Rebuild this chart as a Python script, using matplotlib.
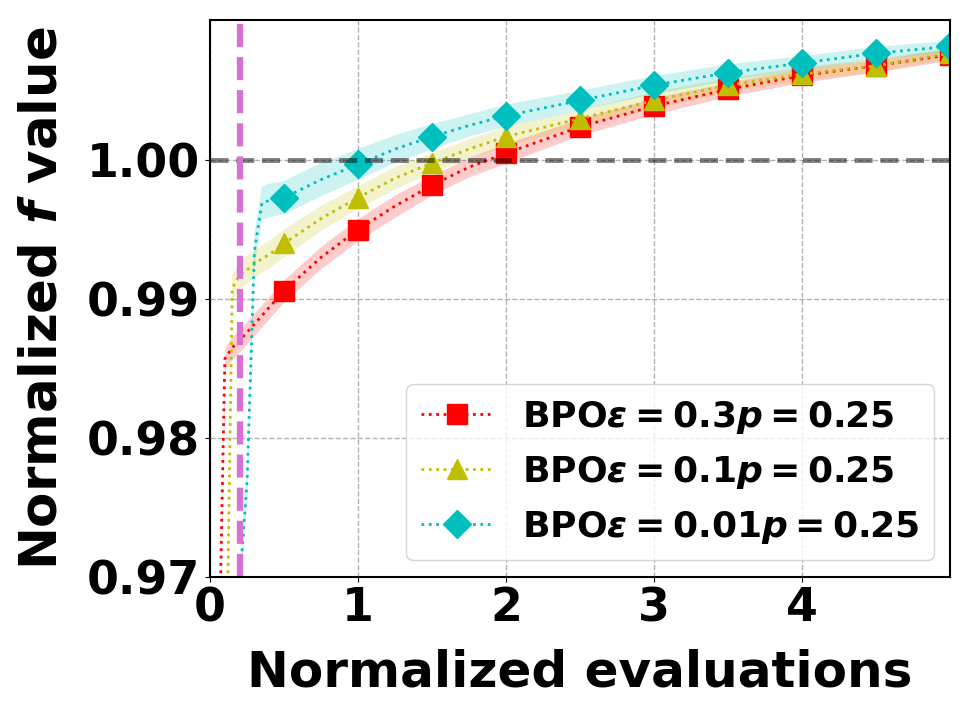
import numpy as np
import matplotlib
matplotlib.use("Agg")
import matplotlib.pyplot as plt

plt.rcParams['font.weight'] = 'bold'
plt.rcParams['axes.labelweight'] = 'bold'
plt.rcParams['mathtext.fontset'] = 'custom'
plt.rcParams['mathtext.rm'] = 'DejaVu Sans:bold'
plt.rcParams['mathtext.it'] = 'DejaVu Sans:italic:bold'
plt.rcParams['mathtext.bf'] = 'DejaVu Sans:bold'

# normalized evaluations
x = [0.05, 0.1, 0.15, 0.2, 0.25, 0.3, 0.35, 0.4, 0.5, 0.75, 1.0, 1.25, 1.5,
     1.75, 2.0, 2.5, 3.0, 3.5, 4.0, 4.5, 5.0]

# eps = 0.3
red_mean = [0.958, 0.9857, 0.9865, 0.9870, 0.9876, 0.9882, 0.9888, 0.9894, 0.9906,
            0.9930, 0.9950, 0.9967, 0.9982, 0.9995, 1.0005, 1.0024, 1.0039, 1.0051,
            1.0061, 1.0068, 1.0076]
red_sd = [0.0008, 0.0008, 0.0008, 0.0008, 0.0008, 0.0008, 0.0008, 0.0008, 0.0008,
          0.0008, 0.0008, 0.0008, 0.0007, 0.0007, 0.0007, 0.0006, 0.0006, 0.0005,
          0.0005, 0.00045, 0.0004]

# eps = 0.1
yel_mean = [0.900, 0.955, 0.9908, 0.9917, 0.9921, 0.9925, 0.9929, 0.9932, 0.9940,
            0.9958, 0.9973, 0.9987, 0.9998, 1.0008, 1.0017, 1.0030, 1.0043, 1.0054,
            1.0062, 1.0068, 1.0077]
yel_sd = [0.001, 0.001, 0.001, 0.001, 0.001, 0.001, 0.001, 0.001, 0.001,
          0.0009, 0.0008, 0.0008, 0.0007, 0.0007, 0.0007, 0.0006, 0.0006, 0.0005,
          0.0005, 0.00045, 0.0004]

# eps = 0.01
cya_mean = [0.880, 0.920, 0.950, 0.9695, 0.9768, 0.9935, 0.9969, 0.9971, 0.9973,
            0.9986, 0.9997, 1.0008, 1.0017, 1.0025, 1.0032, 1.0043, 1.0054, 1.0063,
            1.0070, 1.0077, 1.0082]
cya_sd = [0.0012, 0.0012, 0.0012, 0.0012, 0.0012, 0.0012, 0.0012, 0.0012, 0.0012,
          0.0012, 0.0011, 0.001, 0.0009, 0.0008, 0.0008, 0.0007, 0.00065, 0.0006,
          0.0005, 0.00045, 0.0004]

labels = [r'BPO$\epsilon = 0.3 p = 0.25$', r'BPO$\epsilon = 0.1 p = 0.25$',
          r'BPO$\epsilon = 0.01 p = 0.25$']
colors = ['r', 'y', 'c']
markers = ['s', '^', 'D']

x = np.array(x)
marks = np.isclose(x % 0.5, 0) & (x > 0)

fig = plt.figure(figsize=(9.77, 7.12), dpi=100)
ax = fig.add_axes([0.215, 0.19, 0.7575, 0.782])

for m, s, c, mk, lab in zip([red_mean, yel_mean, cya_mean], [red_sd, yel_sd, cya_sd],
                            colors, markers, labels):
    m = np.array(m)
    s = np.array(s)
    ax.fill_between(x, m - s, m + s, color=c, alpha=0.2, linewidth=0)
    ax.plot(x, m, linestyle=':', color=c, linewidth=2, marker=mk, markersize=14,
            markevery=list(np.where(marks)[0]), label=lab)

ax.axhline(1.0, color='k', alpha=0.5, linestyle='--', linewidth=3.5)
ax.axvline(0.2, color='orchid', linestyle='--', linewidth=4.5)

ax.set_xlim(0, 5)
ax.set_ylim(0.97, 1.0101)
ax.set_xticks([0, 1, 2, 3, 4])
ax.set_yticks([0.97, 0.98, 0.99, 1.00])
ax.set_yticklabels(['0.97', '0.98', '0.99', '1.00'])
ax.tick_params(labelsize=33)
ax.grid(True, linestyle='--', color='gray', alpha=0.6, linewidth=1)
for sp in ax.spines.values():
    sp.set_linewidth(1.5)

ax.set_xlabel('Normalized evaluations', fontsize=36, labelpad=12)
ax.set_ylabel(r'Normalized $f$ value', fontsize=37, labelpad=14)
ax.legend(loc='lower right', fontsize=26, borderaxespad=0.45)

fig.savefig('out.png', dpi=100)
